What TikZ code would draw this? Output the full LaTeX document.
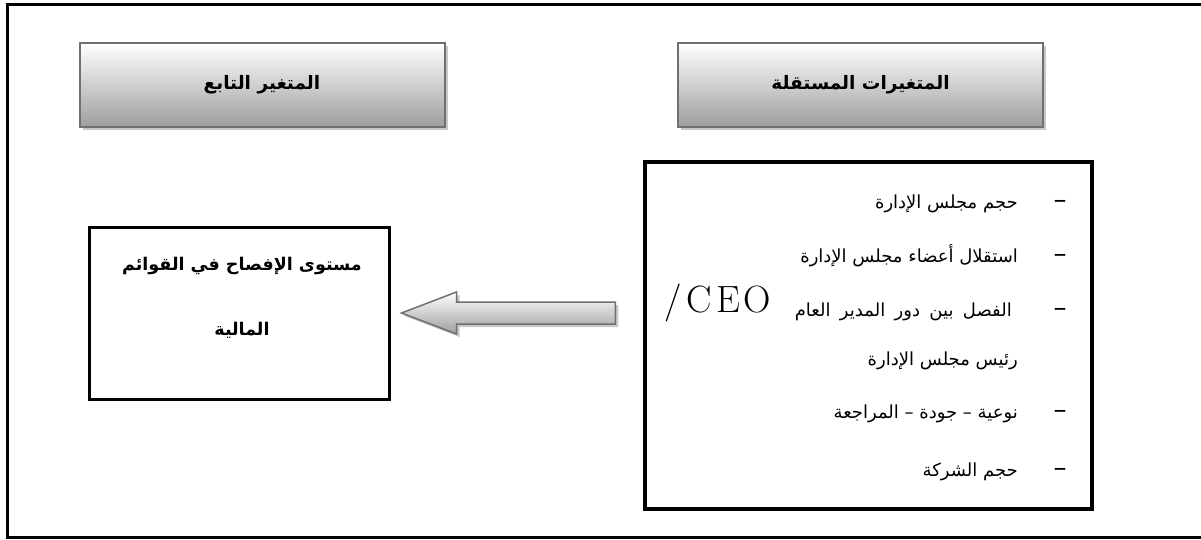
\documentclass[tikz,border=0pt]{standalone}
\usepackage{fontspec}
\newfontfamily\arabicfont[Script=Arabic]{DejaVu Sans}
\newfontfamily\dashfont{DejaVu Sans}
\TeXXeTstate=1
\usetikzlibrary{calc,shadows}
\definecolor{hdrborder}{RGB}{112,112,112}
\definecolor{hdrbottom}{RGB}{158,158,158}
\definecolor{hdrshadow}{RGB}{200,200,200}
\tikzset{
  hdrbox/.style={draw=hdrborder, line width=2pt, top color=white, bottom color=hdrbottom,
    minimum width=365pt, minimum height=84pt, inner sep=0pt,
    font=\arabicfont\bfseries\fontsize{18.5}{22}\selectfont,
    drop shadow={shadow xshift=3pt, shadow yshift=-3pt, fill=hdrshadow, opacity=1}},
  thickbox/.style={draw=black, line width=3.5pt, inner sep=0pt},
  itemtext/.style={anchor=base east, inner sep=0pt, font=\arabicfont\fontsize{18}{22}\selectfont},
  dashtext/.style={anchor=base, inner sep=0pt, font=\dashfont\fontsize{26}{30}\selectfont},
  restext/.style={inner sep=0pt, align=center, font=\arabicfont\bfseries\fontsize{17.5}{65}\selectfont},
}
\begin{document}
\begin{tikzpicture}[x=1pt, y=-1pt]
\useasboundingbox (0,0) rectangle (1201,540);
\fill[white] (0,0) rectangle (1201,540);
% outer frame
\draw[line width=3pt] (7,5) rectangle (1220,537);
% headers
\node[hdrbox] (hindep) at (860.5,85) {\beginR المتغيرات المستقلة\endR};
\node[hdrbox] (hdep) at (262,85) {\beginR المتغير التابع\endR};
% list box
\node[thickbox, minimum width=447pt, minimum height=347pt] (list) at (868.5,335.5) {};
% result box
\node[thickbox, line width=3pt, minimum width=300pt, minimum height=172pt] (res) at (239,313) {};
\node[restext] (restxt) at ($(res.center)+(3pt,15pt)$) {\beginR مستوى الإفصاح في القوائم\endR\\\beginR المالية\endR};
% list items
\node[dashtext] (d1) at (1060,208) {–};
\node[itemtext] (t1) at (1018,208) {\beginR حجم مجلس الإدارة\endR};
\node[dashtext] (d2) at (1060,262) {–};
\node[itemtext] (t2) at (1018,262) {\beginR استقلال أعضاء مجلس الإدارة\endR};
\node[dashtext] (d3) at (1060,316) {–};
\node[itemtext] (t3) at (1012,316) {\hbox to 217pt{\beginR الفصل\hfill بين\hfill دور\hfill المدير\hfill العام\endR}};
\node[anchor=base west, inner sep=0pt, font=\fontsize{38}{42}\selectfont] (ceo) at (664,312) {/\kern5pt C\kern4pt E\kern4pt O};
\node[itemtext] (t3b) at (1018,365) {\beginR رئيس مجلس الإدارة\endR};
\node[dashtext] (d4) at (1060,418) {–};
\node[itemtext] (t4) at (1018,418) {\beginR نوعية – جودة – المراجعة\endR};
\node[dashtext] (d5) at (1060,476) {–};
\node[itemtext] (t5) at (1018,476) {\beginR حجم الشركة\endR};
% block arrow
\coordinate (atip) at ($(res.east)+(11pt,0)$);
\coordinate (aend) at ($(list.west |- atip)+(-28pt,0)$);
\fill[hdrshadow] ($(atip)+(3pt,-3pt)$) -- ($(atip)+(58pt,18pt)$) -- ($(atip)+(58pt,8pt)$) -- ($(aend)+(3pt,8pt)$) -- ($(aend)+(3pt,-14pt)$) -- ($(atip)+(58pt,-14pt)$) -- ($(atip)+(58pt,-24pt)$) -- cycle;
\draw[draw=hdrborder, line width=1.5pt, top color=white, bottom color=hdrbottom]
  (atip) -- ($(atip)+(55pt,21pt)$) -- ($(atip)+(55pt,11pt)$) -- ($(aend)+(0,11pt)$)
  -- ($(aend)+(0,-11pt)$) -- ($(atip)+(55pt,-11pt)$) -- ($(atip)+(55pt,-21pt)$) -- cycle;
\end{tikzpicture}
\end{document}
